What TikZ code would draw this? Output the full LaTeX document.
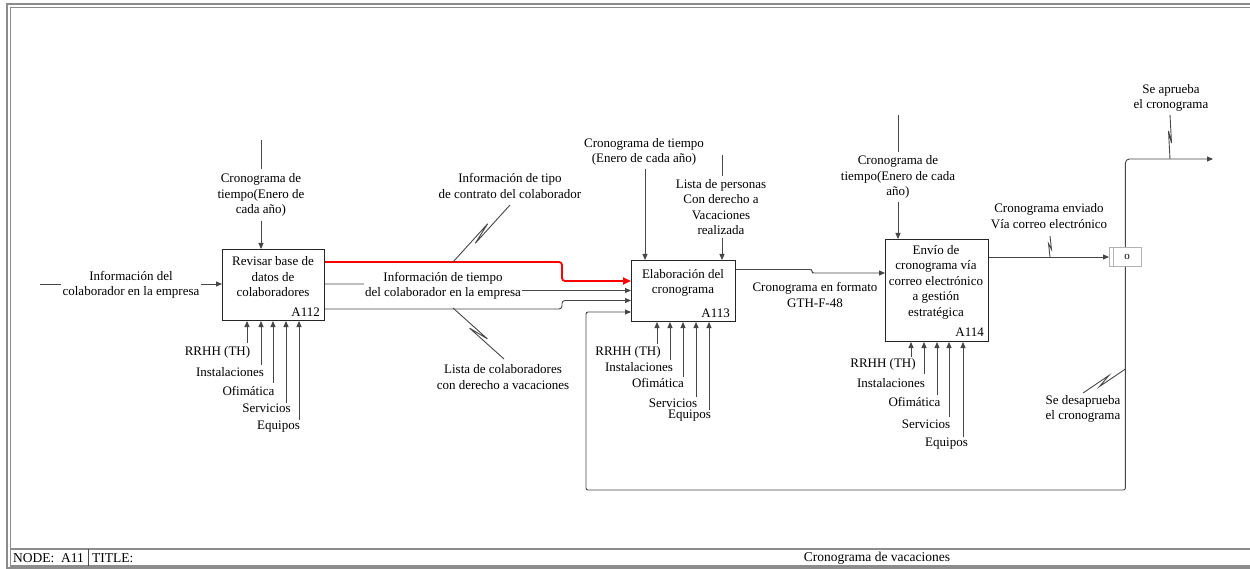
\documentclass[tikz,border=0pt]{standalone}
\usepackage{fontspec}
\setmainfont{Liberation Serif}
\usetikzlibrary{arrows.meta,calc}
% IDEF0 squiggle: a zig-zag tie between a flow and its label
\newcommand{\squig}[3]{%
  \draw[flow] (#1) -- ($(#1)!0.64!(#2)!#3!90:(#2)$)
              -- ($(#1)!0.36!(#2)!#3!-90:(#2)$) -- (#2);}
\begin{document}
\begin{tikzpicture}[x=1pt,y=-1pt,
  font=\fontsize{13}{15.5}\selectfont,
  flow/.style={draw=black!72, line width=0.9pt},
  arr/.style={flow, -{Triangle[length=6pt,width=5pt]}},
  hot/.style={draw=red, line width=1.8pt, rounded corners=3pt, -{Triangle[length=8pt,width=7pt]}},
  act/.style={draw=black!85, line width=1pt, inner sep=0pt, anchor=north west},
  txt/.style={align=center, inner sep=0pt},
  tag/.style={align=center, inner sep=1.5pt, fill=white},
  rule/.style={draw=black!45, line width=1.2pt},
  bar/.style={anchor=west, inner sep=0pt, font=\fontsize{13.5}{15}\selectfont},
]
\useasboundingbox (0,0) rectangle (1250,569);

% double frame and title bar
\draw[rule] (1252,4) -- (7,4) -- (7,568) -- (1252,568);
\draw[rule] (1252,7.5) -- (10.5,7.5) -- (10.5,566) -- (1252,566);
\draw[rule] (10.5,549) -- (1252,549);
\draw[draw=black!70, line width=0.8pt] (88,549) -- (88,566);
\node[bar] (nodeid) at (13,558) {NODE:\ \ A11};
\node[bar] (titlekey) at (92,558) {TITLE:};
\node[bar, anchor=center] (titleval) at (877,558) {Cronograma de vacaciones};

% activity boxes
\node[act, minimum width=102pt, minimum height=71pt] (a112) at (222,249) {};
\node[act, minimum width=104pt, minimum height=61pt] (a113) at (631,260) {};
\node[act, minimum width=103pt, minimum height=102pt] (a114) at (885,239) {};

\node[txt] (a112t) at (273,277) {Revisar base de\\datos de\\colaboradores};
\node[txt, anchor=base east] (a112n) at (320,316.5) {A112};
\node[txt] (a113t) at (683,283) {Elaboración del\\cronograma};
\node[txt, anchor=base east] (a113n) at (730,317.5) {A113};
\node[txt] (a114t) at (936,282) {Envío de\\cronograma vía\\correo electrónico\\a gestión\\estratégica};
\node[txt, anchor=base east] (a114n) at (984,336.5) {A114};

% mechanisms
\foreach \x/\y [count=\i] in {247/343,261/365,273/383,286/403,299/420}{
  \coordinate (ma\i) at (\x,\y);
  \draw[arr] (ma\i) -- (ma\i |- a112.south);
}
\node[txt] (ma1t) at (217.5,352) {RRHH (TH)};
\node[txt] (ma2t) at (230,372) {Instalaciones};
\node[txt] (ma3t) at (248.5,391) {Ofimática};
\node[txt] (ma4t) at (266.5,408) {Servicios};
\node[txt] (ma5t) at (278.5,427) {Equipos};

\foreach \x/\y [count=\i] in {657/344,670/360,683/377,696/397,709/410}{
  \coordinate (mb\i) at (\x,\y);
  \draw[arr] (mb\i) -- (mb\i |- a113.south);
}
\node[txt] (mb1t) at (628,352) {RRHH (TH)};
\node[txt] (mb2t) at (639,367) {Instalaciones};
\node[txt] (mb3t) at (658,383) {Ofimática};
\node[txt] (mb4t) at (673,403) {Servicios};
\node[txt] (mb5t) at (689.5,416) {Equipos};

\foreach \x/\y [count=\i] in {911/357,924/374,937/395,949/417,963/437}{
  \coordinate (mc\i) at (\x,\y);
  \draw[arr] (mc\i) -- (mc\i |- a114.south);
}
\node[txt] (mc1t) at (883,364) {RRHH (TH)};
\node[txt] (mc2t) at (891,383) {Instalaciones};
\node[txt] (mc3t) at (914.5,402) {Ofimática};
\node[txt] (mc4t) at (926,424) {Servicios};
\node[txt] (mc5t) at (946.5,444) {Equipos};

% input and control of A112
\coordinate (i1) at (40,284);
\draw[arr] (i1) -- (i1 -| a112.west);
\node[tag] (i1t) at (131,285) {Información del\\colaborador en la empresa};
\coordinate (k1) at (261,140);
\draw[arr] (k1) -- (k1 |- a112.north);
\node[tag, inner ysep=5pt] (k1t) at (261,195) {Cronograma de\\tiempo(Enero de\\cada año)};

% outputs of A112 into A113
\coordinate (r1) at ($(a112.north east)+(0,13)$);
\coordinate (r2) at ($(a113.north west)+(0,21)$);
\draw[hot] (r1) -| ($(r2)+(-69,0)$) -- (r2);
\coordinate (r3) at ($(a112.north east)+(0,35)$);
\coordinate (r4) at ($(a113.north west)+(0,30.5)$);
\draw[arr, rounded corners=2pt] (r3) -- ++(120,0) |- (r4);
\node[tag] (t2) at (443,286) {Información de tiempo\\del colaborador en la empresa};
\coordinate (r5) at ($(a112.south east)+(0,-12)$);
\coordinate (r6) at ($(a113.north west)+(0,40.5)$);
\draw[arr, rounded corners=3pt] (r5) -| ($(r6)+(-69,0)$) -- (r6);

\coordinate (s1a) at (453,262);
\coordinate (s1b) at (510,205);
\squig{s1a}{s1b}{2.5pt}
\node[txt] (s1t) at (510,186) {Información de tipo\\de contrato del colaborador};
\coordinate (s2a) at (453,308);
\coordinate (s2b) at (504,359);
\squig{s2a}{s2b}{2.5pt}
\node[txt] (s2t) at (503,377) {Lista de colaboradores\\con derecho a vacaciones};

% controls of A113
\coordinate (k2) at (645,169);
\draw[arr] (k2) -- (k2 |- a113.north);
\node[txt] (k2t) at (644,152) {Cronograma de tiempo\\(Enero de cada año)};
\coordinate (k3) at (722,155);
\draw[arr] (k3) -- (k3 |- a113.north);
\node[tag, inner ysep=3pt] (k3t) at (721,207) {Lista de personas\\Con derecho a\\Vacaciones\\realizada};

% A113 to A114
\coordinate (r7) at ($(a113.north east)+(0,9.5)$);
\coordinate (r8) at ($(a114.north west)+(0,34)$);
\draw[arr, rounded corners=2pt] (r7) -| ($(r8)+(-73,0)$) -- (r8);
\node[txt] (o1t) at (815,295) {Cronograma en formato\\GTH-F-48};

% control of A114
\coordinate (k4) at (898,115);
\draw[arr] (k4) -- (k4 |- a114.north);
\node[tag, inner ysep=4pt] (k4t) at (898,177) {Cronograma de\\tiempo(Enero de cada\\año)};

% junction after A114
\node[act, draw=black!30, line width=0.8pt, minimum width=32pt, minimum height=19pt] (jn) at (1109,247) {};
\draw[draw=black!30, line width=0.8pt] ($(jn.north west)+(4,0)$) -- ($(jn.south west)+(4,0)$);
\node[txt, font=\fontsize{11}{13}\selectfont] (jnt) at (1127,256.5) {o};

\coordinate (r9) at ($(a114.north east)+(0,18)$);
\draw[arr] (r9) -- (r9 -| jn.west);
\coordinate (s3a) at ($(r9)+(61,0)$);
\coordinate (s3b) at ($(s3a)+(0,-21)$);
\squig{s3a}{s3b}{1.5pt}
\node[txt] (s3t) at (1049,216) {Cronograma enviado\\Vía correo electrónico};

% approval branch
\coordinate (ok) at (1213,159);
\draw[arr, rounded corners=4pt] (jn.north) |- (ok);
\coordinate (s4a) at (1170,159);
\coordinate (s4b) at (1170,115);
\squig{s4a}{s4b}{1.5pt}
\node[txt] (s4t) at (1171,98) {Se aprueba\\el cronograma};

% rejection loop back to A113
\coordinate (lp) at (586,490);
\coordinate (r10) at ($(a113.south west)+(0,-10)$);
\draw[arr, rounded corners=2pt] (jn.south) |- (lp) |- (r10);
\coordinate (s5a) at (jn.south |- 0,369);
\coordinate (s5b) at (1083,393);
\squig{s5a}{s5b}{2.5pt}
\node[txt] (s5t) at (1083,409) {Se desaprueba\\el cronograma};
\end{tikzpicture}
\end{document}
